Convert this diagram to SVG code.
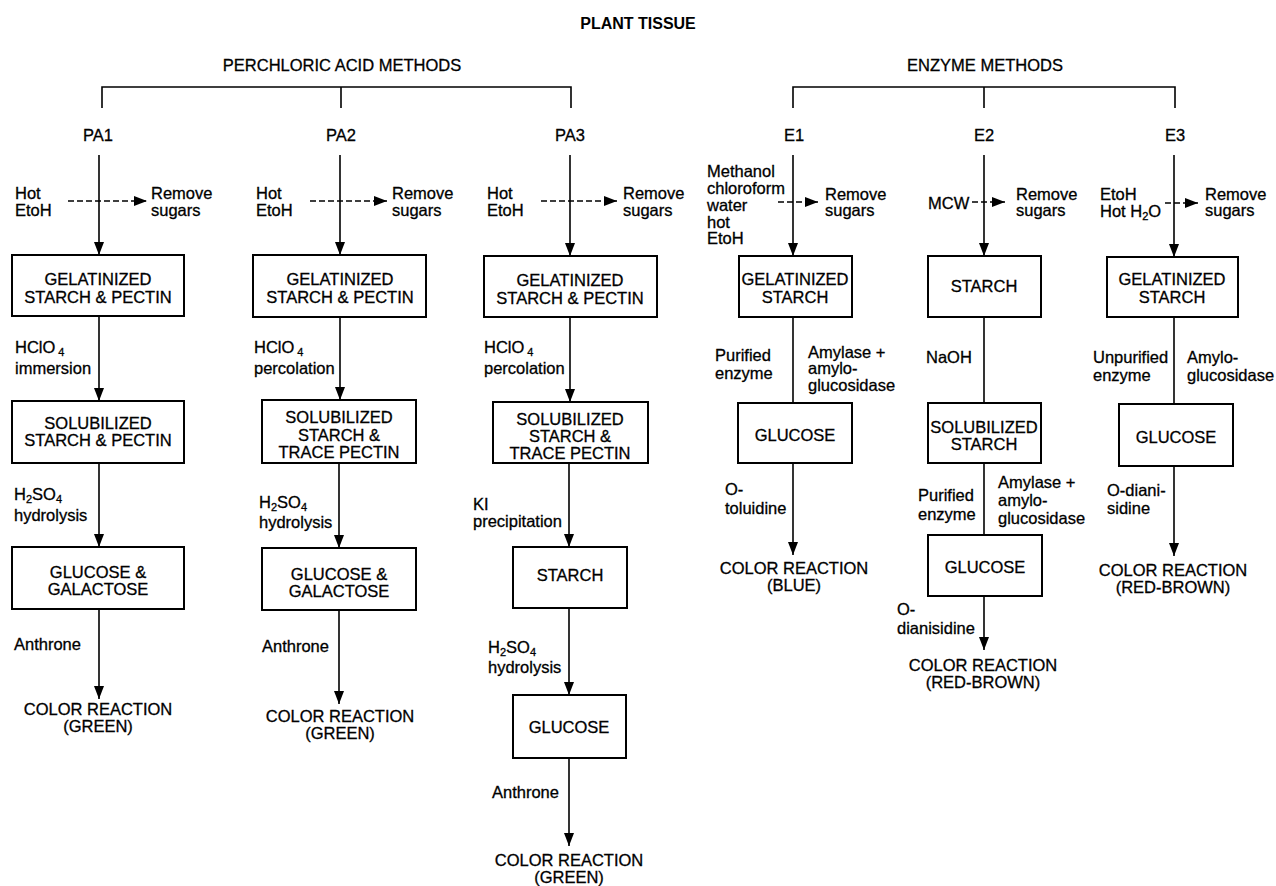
<svg xmlns="http://www.w3.org/2000/svg" width="1276" height="886" viewBox="0 0 1276 886">
<defs>
<marker id="ah" markerUnits="userSpaceOnUse" markerWidth="14" markerHeight="10" refX="13" refY="5" orient="auto">
<path d="M0,0 L13,5 L0,10 z" fill="#000"/>
</marker>
<style>
text{font-family:"Liberation Sans",Arial,sans-serif;font-size:16.5px;fill:#000;stroke:#000;stroke-width:0.3}
.c{text-anchor:middle}
.t{font-weight:bold;font-size:16px;stroke-width:0}
.box{fill:#fff;stroke:#000;stroke-width:2}
.ln{fill:none;stroke:#000;stroke-width:1.6}
.ar{fill:none;stroke:#000;stroke-width:1.6;marker-end:url(#ah)}
.da{fill:none;stroke:#000;stroke-width:1.6;stroke-dasharray:6 3;marker-end:url(#ah)}
.sb{font-size:11px}
</style>
</defs>
<rect width="1276" height="886" fill="#fff"/>

<g id="title"><text class="c t" x="638" y="29">PLANT TISSUE</text></g>

<g id="connectors">
<path class="ln" d="M102,108 V87 H571 V108 M341,87 V108"/>
<path class="ln" d="M793,108 V87 H1175 V108 M984,87 V108"/>
<!-- PA1 -->
<path class="ar" d="M99,155 V255"/>
<path class="da" d="M68,201 H147"/>
<path class="ar" d="M99,316 V401"/>
<path class="ar" d="M99,463 V547"/>
<path class="ar" d="M99,609 V699"/>
<!-- PA2 -->
<path class="ar" d="M340,155 V255"/>
<path class="da" d="M310,201 H387"/>
<path class="ar" d="M340,317 V400"/>
<path class="ar" d="M339,463 V548"/>
<path class="ar" d="M339,610 V704"/>
<!-- PA3 -->
<path class="ar" d="M570,155 V256"/>
<path class="da" d="M541,201 H617"/>
<path class="ar" d="M570,317 V402"/>
<path class="ar" d="M569,463 V547"/>
<path class="ar" d="M569,608 V695"/>
<path class="ar" d="M569,758 V846"/>
<!-- E1 -->
<path class="ar" d="M793,155 V256"/>
<path class="da" d="M778,202 H818"/>
<path class="ln" d="M793,317 V403"/>
<path class="ar" d="M793,463 V555"/>
<!-- E2 -->
<path class="ar" d="M984,155 V256"/>
<path class="da" d="M972,202 H1005"/>
<path class="ln" d="M984,317 V403"/>
<path class="ln" d="M984,463 V535"/>
<path class="ar" d="M984,596 V650"/>
<!-- E3 -->
<path class="ar" d="M1174,155 V257"/>
<path class="da" d="M1165,203 H1198"/>
<path class="ln" d="M1174,317 V404"/>
<path class="ar" d="M1174,466 V556"/>
</g>

<g id="group-pa"><text class="c" x="342" y="71">PERCHLORIC ACID METHODS</text></g>
<g id="group-e"><text class="c" x="985" y="71">ENZYME METHODS</text></g>

<g id="pa1">
<text class="c" x="98" y="141">PA1</text>
<text x="15" y="199">Hot</text><text x="15" y="216">EtoH</text>
<text x="151" y="199">Remove</text><text x="151" y="216">sugars</text>
</g>
<g id="pa1-gel"><rect class="box" x="12" y="255" width="172" height="61"/>
<text class="c" x="98" y="285">GELATINIZED</text><text class="c" x="98" y="303">STARCH &amp; PECTIN</text></g>
<g id="pa1-l1"><text x="15" y="353">HClO<tspan class="sb" dx="3" dy="3">4</tspan></text><text x="15" y="374">immersion</text></g>
<g id="pa1-sol"><rect class="box" x="12" y="401" width="172" height="62"/>
<text class="c" x="98" y="429">SOLUBILIZED</text><text class="c" x="98" y="446">STARCH &amp; PECTIN</text></g>
<g id="pa1-l2"><text x="14" y="500">H<tspan class="sb" dy="3">2</tspan><tspan dy="-3">SO</tspan><tspan class="sb" dy="3">4</tspan></text><text x="14" y="521">hydrolysis</text></g>
<g id="pa1-glu"><rect class="box" x="12" y="547" width="172" height="62"/>
<text class="c" x="98" y="578">GLUCOSE &amp;</text><text class="c" x="98" y="595">GALACTOSE</text></g>
<g id="pa1-l3"><text x="14" y="650">Anthrone</text></g>
<g id="pa1-res"><text class="c" x="98" y="715">COLOR REACTION</text><text class="c" x="98" y="732">(GREEN)</text></g>

<g id="pa2">
<text class="c" x="341" y="141">PA2</text>
<text x="256" y="199">Hot</text><text x="256" y="216">EtoH</text>
<text x="392" y="199">Remove</text><text x="392" y="216">sugars</text>
</g>
<g id="pa2-gel"><rect class="box" x="253" y="255" width="173" height="62"/>
<text class="c" x="340" y="285">GELATINIZED</text><text class="c" x="340" y="303">STARCH &amp; PECTIN</text></g>
<g id="pa2-l1"><text x="254" y="353">HClO<tspan class="sb" dx="3" dy="3">4</tspan></text><text x="254" y="374">percolation</text></g>
<g id="pa2-sol"><rect class="box" x="262" y="400" width="154" height="63"/>
<text class="c" x="339" y="423">SOLUBILIZED</text><text class="c" x="339" y="441">STARCH &amp;</text><text class="c" x="339" y="458">TRACE PECTIN</text></g>
<g id="pa2-l2"><text x="259" y="508">H<tspan class="sb" dy="3">2</tspan><tspan dy="-3">SO</tspan><tspan class="sb" dy="3">4</tspan></text><text x="259" y="528">hydrolysis</text></g>
<g id="pa2-glu"><rect class="box" x="262" y="548" width="154" height="62"/>
<text class="c" x="339" y="580">GLUCOSE &amp;</text><text class="c" x="339" y="597">GALACTOSE</text></g>
<g id="pa2-l3"><text x="262" y="652">Anthrone</text></g>
<g id="pa2-res"><text class="c" x="340" y="722">COLOR REACTION</text><text class="c" x="340" y="739">(GREEN)</text></g>

<g id="pa3">
<text class="c" x="570" y="141">PA3</text>
<text x="487" y="199">Hot</text><text x="487" y="216">EtoH</text>
<text x="623" y="199">Remove</text><text x="623" y="216">sugars</text>
</g>
<g id="pa3-gel"><rect class="box" x="484" y="256" width="173" height="61"/>
<text class="c" x="570" y="286">GELATINIZED</text><text class="c" x="570" y="304">STARCH &amp; PECTIN</text></g>
<g id="pa3-l1"><text x="484" y="353">HClO<tspan class="sb" dx="3" dy="3">4</tspan></text><text x="484" y="374">percolation</text></g>
<g id="pa3-sol"><rect class="box" x="493" y="402" width="155" height="61"/>
<text class="c" x="570" y="425">SOLUBILIZED</text><text class="c" x="570" y="442">STARCH &amp;</text><text class="c" x="570" y="459">TRACE PECTIN</text></g>
<g id="pa3-l2"><text x="473" y="510">KI</text><text x="473" y="527">precipitation</text></g>
<g id="pa3-sta"><rect class="box" x="513" y="547" width="114" height="61"/>
<text class="c" x="570" y="581">STARCH</text></g>
<g id="pa3-l3"><text x="488" y="653">H<tspan class="sb" dy="3">2</tspan><tspan dy="-3">SO</tspan><tspan class="sb" dy="3">4</tspan></text><text x="488" y="673">hydrolysis</text></g>
<g id="pa3-glu"><rect class="box" x="513" y="695" width="113" height="63"/>
<text class="c" x="569" y="733">GLUCOSE</text></g>
<g id="pa3-l4"><text x="492" y="798">Anthrone</text></g>
<g id="pa3-res"><text class="c" x="569" y="866">COLOR REACTION</text><text class="c" x="569" y="883">(GREEN)</text></g>

<g id="e1">
<text class="c" x="794" y="141">E1</text>
<text x="707" y="177">Methanol</text><text x="707" y="194">chloroform</text><text x="707" y="211">water</text><text x="707" y="228">hot</text><text x="707" y="244">EtoH</text>
<text x="825" y="200">Remove</text><text x="825" y="216">sugars</text>
</g>
<g id="e1-gel"><rect class="box" x="739" y="256" width="113" height="61"/>
<text class="c" x="795" y="285">GELATINIZED</text><text class="c" x="795" y="303">STARCH</text></g>
<g id="e1-l1"><text x="715" y="361">Purified</text><text x="715" y="379">enzyme</text>
<text x="808" y="358">Amylase +</text><text x="808" y="374">amylo-</text><text x="808" y="391">glucosidase</text></g>
<g id="e1-glu"><rect class="box" x="738" y="403" width="114" height="60"/>
<text class="c" x="795" y="441">GLUCOSE</text></g>
<g id="e1-l2"><text x="725" y="495">O-</text><text x="725" y="514">toluidine</text></g>
<g id="e1-res"><text class="c" x="794" y="574">COLOR REACTION</text><text class="c" x="794" y="591">(BLUE)</text></g>

<g id="e2">
<text class="c" x="984" y="141">E2</text>
<text x="928" y="209">MCW</text>
<text x="1016" y="200">Remove</text><text x="1016" y="216">sugars</text>
</g>
<g id="e2-sta"><rect class="box" x="928" y="256" width="113" height="61"/>
<text class="c" x="984" y="292">STARCH</text></g>
<g id="e2-l1"><text x="926" y="363">NaOH</text></g>
<g id="e2-sol"><rect class="box" x="928" y="403" width="113" height="60"/>
<text class="c" x="984" y="433">SOLUBILIZED</text><text class="c" x="984" y="450">STARCH</text></g>
<g id="e2-l2"><text x="918" y="501">Purified</text><text x="918" y="520">enzyme</text>
<text x="998" y="488">Amylase +</text><text x="998" y="506">amylo-</text><text x="998" y="524">glucosidase</text></g>
<g id="e2-glu"><rect class="box" x="928" y="535" width="114" height="61"/>
<text class="c" x="985" y="573">GLUCOSE</text></g>
<g id="e2-l3"><text x="897" y="615">O-</text><text x="897" y="634">dianisidine</text></g>
<g id="e2-res"><text class="c" x="983" y="671">COLOR REACTION</text><text class="c" x="983" y="688">(RED-BROWN)</text></g>

<g id="e3">
<text class="c" x="1175" y="141">E3</text>
<text x="1100" y="200">EtoH</text><text x="1100" y="217">Hot H<tspan class="sb" dy="3">2</tspan><tspan dy="-3">O</tspan></text>
<text x="1205" y="200">Remove</text><text x="1205" y="216">sugars</text>
</g>
<g id="e3-gel"><rect class="box" x="1107" y="257" width="131" height="60"/>
<text class="c" x="1172" y="285">GELATINIZED</text><text class="c" x="1172" y="303">STARCH</text></g>
<g id="e3-l1"><text x="1093" y="363">Unpurified</text><text x="1093" y="381">enzyme</text>
<text x="1187" y="363">Amylo-</text><text x="1187" y="381">glucosidase</text></g>
<g id="e3-glu"><rect class="box" x="1119" y="404" width="114" height="62"/>
<text class="c" x="1176" y="443">GLUCOSE</text></g>
<g id="e3-l2"><text x="1107" y="496">O-diani-</text><text x="1107" y="514">sidine</text></g>
<g id="e3-res"><text class="c" x="1173" y="576">COLOR REACTION</text><text class="c" x="1173" y="593">(RED-BROWN)</text></g>
</svg>
